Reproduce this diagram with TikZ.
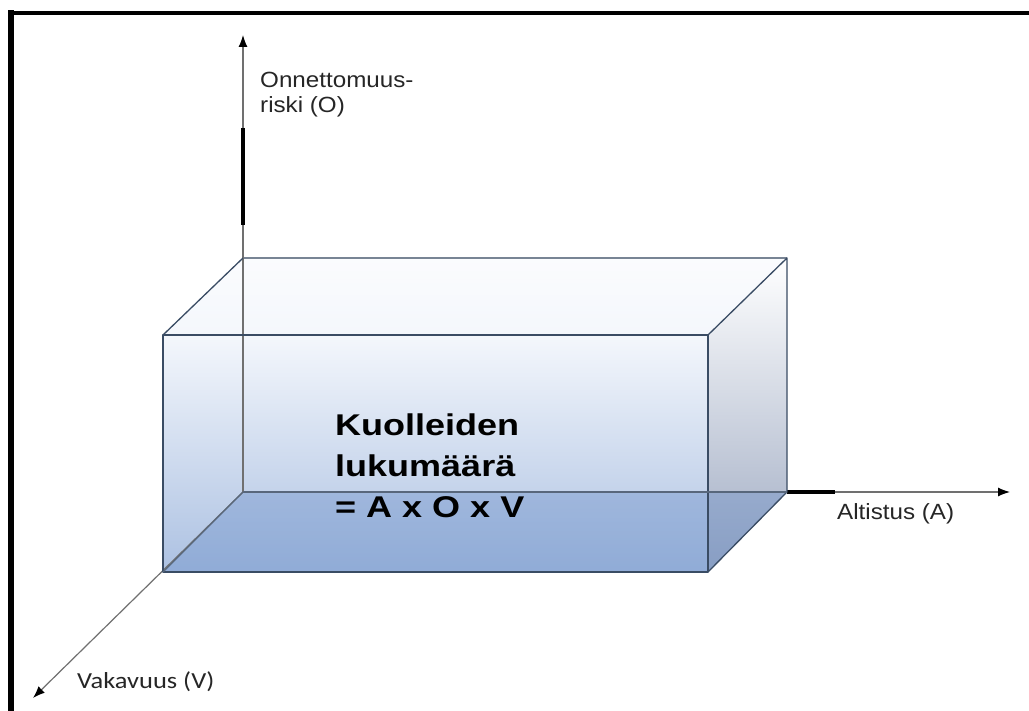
\documentclass[tikz,border=0pt]{standalone}
\usepackage{fontspec}
\setmainfont{Liberation Sans}
\newfontfamily\calibrifont{Carlito}
\usetikzlibrary{arrows.meta}
\definecolor{edgecol}{RGB}{58,76,100}
\definecolor{backedge}{RGB}{120,132,148}
\definecolor{axiscol}{RGB}{112,112,112}
\definecolor{faceTop}{RGB}{244,247,252}
\definecolor{faceMid}{RGB}{214,225,240}
\definecolor{faceBot}{RGB}{172,193,226}
\definecolor{sideMid}{RGB}{210,216,228}
\definecolor{sideBot}{RGB}{158,170,194}
\definecolor{floorcol}{RGB}{100,138,198}
\tikzset{
  boxedge/.style={draw=edgecol, line width=1.3pt, line join=round},
  axis/.style={draw=axiscol, line width=1.2pt,
    -{Latex[length=12pt,width=9pt,color=black]}},
  heavy/.style={draw=black, line cap=butt},
  label/.style={inner sep=0pt, anchor=north west, align=left,
    font=\fontsize{22}{25}\selectfont, text=black!85},
  formula/.style={inner sep=0pt, anchor=north west, align=left,
    font=\fontsize{30}{41}\selectfont\bfseries, text=black},
}
\begin{document}
\begin{tikzpicture}[x=1pt,y=-1pt]
\useasboundingbox (0,0) rectangle (1029,711);
\fill[white] (0,0) rectangle (1029,711);

% corners of the box: front face and back face
\coordinate (ftl) at (163,335);
\coordinate (ftr) at (708,335);
\coordinate (fbl) at (163,572);
\coordinate (fbr) at (708,572);
\coordinate (btl) at (243,258);
\coordinate (btr) at (787,258);
\coordinate (bbl) at (243,492);
\coordinate (bbr) at (787,492);

% axis ends
\coordinate (otip) at (243,35);
\coordinate (atip) at (1010,492);
\coordinate (vtip) at (33,698);

% faces
\shade[top color=faceTop!40!white, bottom color=faceTop]
  (ftl) -- (btl) -- (btr) -- (ftr) -- cycle;
\shade[top color=white, middle color=sideMid, bottom color=sideBot]
  (ftr) -- (btr) -- (bbr) -- (fbr) -- cycle;
\shade[top color=faceTop, middle color=faceMid, bottom color=faceBot]
  (ftl) -- (ftr) -- (fbr) -- (fbl) -- cycle;
% floor of the box seen through the front and side faces
\fill[floorcol, opacity=0.38] (fbl) -- (bbl) -- (bbr) -- (fbr) -- cycle;

% hidden back edge along the top
\draw[draw=backedge, line width=1.2pt] (btl) -- (btr);

% axes
\draw[axis] (bbl) -- (otip);
\draw[axis] (bbl) -- (atip);
\draw[axis] (bbl) -- (vtip);
\draw[heavy, line width=4.5pt] (243,128) -- (243,225);
\draw[heavy, line width=3.5pt] (bbr) -- (835,492);

% visible edges
\draw[boxedge] (ftl) -- (ftr) -- (fbr) -- (fbl) -- cycle;
\draw[boxedge] (ftl) -- (btl);
\draw[boxedge] (ftr) -- (btr) -- (bbr) -- (fbr);
\draw[draw=edgecol!85, line width=1.2pt] (bbl) -- (fbl);
\draw[draw=edgecol!85, line width=1.2pt] (bbl) -- (bbr);

% labels
\node[label] (olab) at (260,72) {\scalebox{1.1}[1]{Onnettomuus-}\\\scalebox{1.1}[1]{riski (O)}};
\node[label] (alab) at (837,503) {\scalebox{1.1}[1]{Altistus (A)}};
\node[label, font=\calibrifont\fontsize{23}{26}\selectfont] (vlab) at (77,671) {\scalebox{1.15}[1]{Vakavuus (V)}};
\node[formula] (flab) at (335,414) {\scalebox{1.2}[1]{Kuolleiden}\\\scalebox{1.2}[1]{lukumäärä}\\\scalebox{1.2}[1]{= A x O x V}};

% frame
\draw[line width=6pt] (11,10.5) -- (11,711);
\draw[line width=4.5pt] (8,13) -- (1029,13);
\end{tikzpicture}
\end{document}
